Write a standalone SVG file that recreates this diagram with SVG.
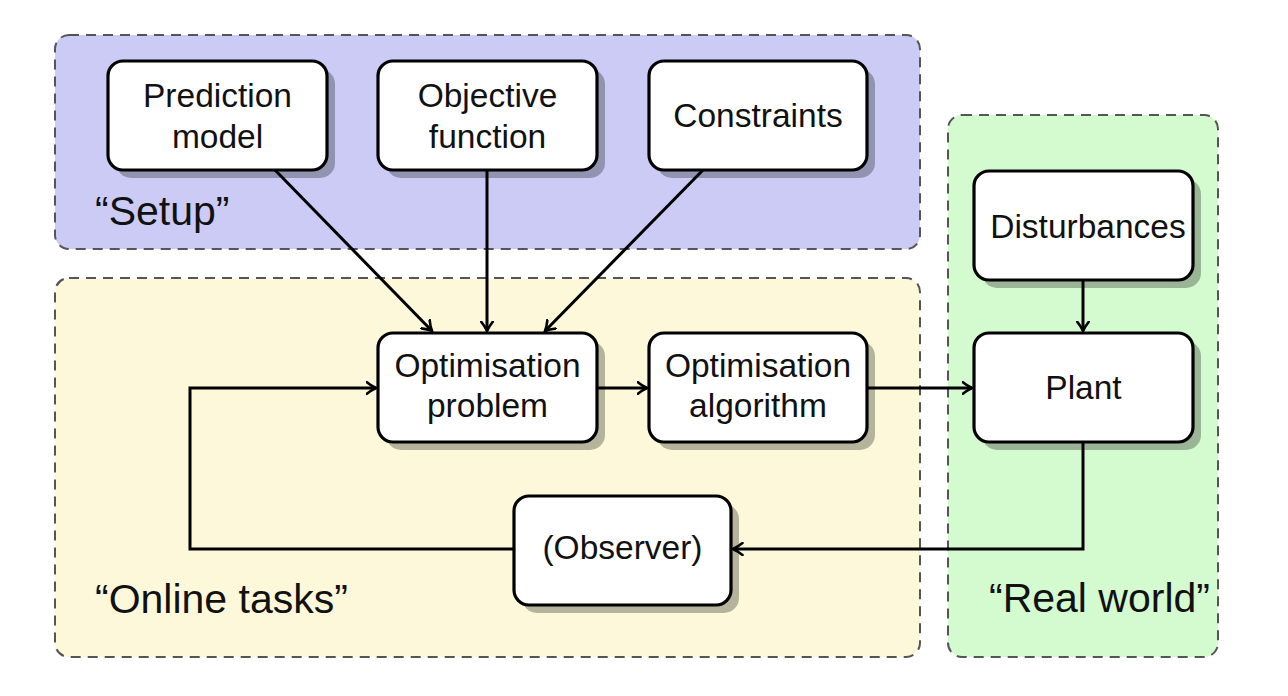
<svg xmlns="http://www.w3.org/2000/svg" width="1288" height="696" viewBox="0 0 1288 696">
<defs>
<style>
.region{stroke:#555;stroke-width:2;stroke-dasharray:10,7}
.shadow{fill:#000;fill-opacity:0.28}
.box{fill:#fff;stroke:#000;stroke-width:3.2}
.t{font-family:"Liberation Sans",Arial,sans-serif;font-size:33.5px;fill:#111;text-anchor:middle}
.lab{font-family:"Liberation Sans",Arial,sans-serif;font-size:41px;fill:#111}
.c{fill:none;stroke:#000;stroke-width:3;marker-end:url(#arr)}
</style>
<marker id="arr" viewBox="0 0 12 14" refX="10.5" refY="7" markerWidth="12" markerHeight="14" markerUnits="userSpaceOnUse" orient="auto">
<path d="M1,1 Q6,5 10.5,7 Q6,9 1,13" fill="none" stroke="#000" stroke-width="2.6" stroke-linecap="round"/>
</marker>
</defs>
<rect width="1288" height="696" fill="#fff"/>
<g id="region-setup">
<rect class="region" x="55" y="35" width="865" height="214" rx="14" fill="#cbcbf6"/>
<text class="lab" x="95" y="225">“Setup”</text>
</g>
<g id="region-online">
<rect class="region" x="55" y="278" width="865" height="379" rx="14" fill="#fdf8d9"/>
<text class="lab" x="95" y="613">“Online tasks”</text>
</g>
<g id="region-real">
<rect class="region" x="948" y="115" width="270" height="542" rx="14" fill="#d4fbcf"/>
<text class="lab" x="989" y="612">“Real world”</text>
</g>
<g id="connectors">
<path class="c" d="M275,170 L432,331"/>
<path class="c" d="M487,170 L487,331"/>
<path class="c" d="M703,170 L545,331"/>
<path class="c" d="M597,388 L647,388"/>
<path class="c" d="M867,388 L972,388"/>
<path class="c" d="M1083,280 L1083,331"/>
<path class="c" d="M1083,442 L1083,549 L733,549"/>
<path class="c" d="M514,549 L190,549 L190,388 L376,388"/>
</g>
<g id="node-prediction">
<rect class="shadow" x="116" y="69" width="219" height="109" rx="15"/>
<rect class="box" x="108" y="61" width="219" height="109" rx="15"/>
<text class="t" x="217.5" y="107">Prediction</text>
<text class="t" x="217.5" y="148">model</text>
</g>
<g id="node-objective">
<rect class="shadow" x="386" y="69" width="219" height="109" rx="15"/>
<rect class="box" x="378" y="61" width="219" height="109" rx="15"/>
<text class="t" x="487.5" y="107">Objective</text>
<text class="t" x="487.5" y="148">function</text>
</g>
<g id="node-constraints">
<rect class="shadow" x="657" y="69" width="218" height="109" rx="15"/>
<rect class="box" x="649" y="61" width="218" height="109" rx="15"/>
<text class="t" x="758" y="127">Constraints</text>
</g>
<g id="node-optproblem">
<rect class="shadow" x="386" y="341" width="219" height="109" rx="15"/>
<rect class="box" x="378" y="333" width="219" height="109" rx="15"/>
<text class="t" x="487.5" y="377">Optimisation</text>
<text class="t" x="487.5" y="417">problem</text>
</g>
<g id="node-optalgorithm">
<rect class="shadow" x="657" y="341" width="218" height="109" rx="15"/>
<rect class="box" x="649" y="333" width="218" height="109" rx="15"/>
<text class="t" x="758" y="377">Optimisation</text>
<text class="t" x="758" y="417">algorithm</text>
</g>
<g id="node-disturbances">
<rect class="shadow" x="982" y="179" width="219" height="109" rx="15"/>
<rect class="box" x="974" y="171" width="219" height="109" rx="15"/>
<text class="t" x="1088" y="238">Disturbances</text>
</g>
<g id="node-plant">
<rect class="shadow" x="982" y="341" width="219" height="109" rx="15"/>
<rect class="box" x="974" y="333" width="219" height="109" rx="15"/>
<text class="t" x="1083.5" y="399">Plant</text>
</g>
<g id="node-observer">
<rect class="shadow" x="522" y="504" width="217" height="109" rx="15"/>
<rect class="box" x="514" y="496" width="217" height="109" rx="15"/>
<text class="t" x="622.5" y="559">(Observer)</text>
</g>
</svg>
